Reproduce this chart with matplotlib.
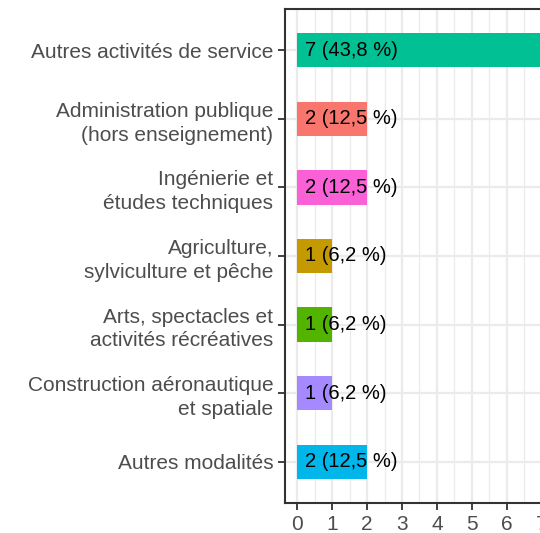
import matplotlib
matplotlib.use("Agg")
import matplotlib.pyplot as plt
from matplotlib.ticker import MultipleLocator

# categories, top to bottom
categories = [
    "Autres activités de service",
    "Administration publique\n(hors enseignement)",
    "Ingénierie et\nétudes techniques",
    "Agriculture,\nsylviculture et pêche",
    "Arts, spectacles et\nactivités récréatives",
    "Construction aéronautique\net spatiale",
    "Autres modalités",
]
counts = [7, 2, 2, 1, 1, 1, 2]
labels = ["7 (43,8 %)", "2 (12,5 %)", "2 (12,5 %)", "1 (6,2 %)",
          "1 (6,2 %)", "1 (6,2 %)", "2 (12,5 %)"]
colors = ["#00C094", "#F8766D", "#FB61D7", "#C49A00",
          "#53B400", "#A58AFF", "#00B6EB"]
x_ticks = [0, 1, 2, 3, 4, 5, 6, 7]

plt.rcParams["font.family"] = ["Liberation Sans", "DejaVu Sans"]

fig = plt.figure(figsize=(5.4, 5.33), dpi=100)
# panel runs past the right edge, like the cropped original
ax = fig.add_axes([0.528, 0.0563, 0.4976, 0.9268])

n = len(categories)
ypos = [n - i for i in range(n)]
ax.barh(ypos, counts, height=0.5, color=colors, zorder=3)
for y, lab in zip(ypos, labels):
    ax.text(0.22, y, lab, ha="left", va="center", fontsize=14.5,
            color="black", zorder=4)

ax.set_xlim(-0.35, 7.35)
ax.set_ylim(0.4, n + 0.6)
ax.set_xticks(x_ticks)
ax.xaxis.set_minor_locator(MultipleLocator(0.5))
ax.set_yticks(ypos)
ax.set_yticklabels(categories, linespacing=1.32)

ax.grid(True, which="major", color="#EBEBEB", linewidth=1.6, zorder=0)
ax.grid(True, which="minor", axis="x", color="#EBEBEB", linewidth=0.9, zorder=0)
ax.set_axisbelow(True)

for s in ax.spines.values():
    s.set_color("#333333")
    s.set_linewidth(1.5)

ax.tick_params(axis="both", which="major", labelsize=15, labelcolor="#4D4D4D",
               color="#333333", length=5, width=1.3, pad=3.5)
ax.tick_params(axis="both", which="minor", length=0)

fig.savefig("out.png", dpi=100)
